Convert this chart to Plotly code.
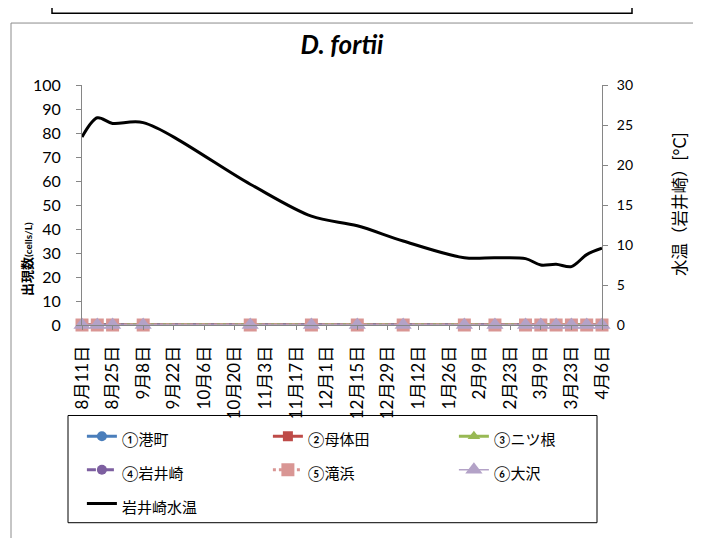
import plotly.graph_objects as go

# ---- data ----
dates = ["2013-08-11", "2013-08-18", "2013-08-25", "2013-09-08", "2013-10-27",
         "2013-11-24", "2013-12-15", "2014-01-05", "2014-02-02", "2014-02-16",
         "2014-03-02", "2014-03-09", "2014-03-16", "2014-03-23", "2014-03-30",
         "2014-04-06"]
water_temp = [23.5, 25.9, 25.2, 25.3, 17.6, 13.6, 12.4, 10.5, 8.4, 8.4,
              8.3, 7.5, 7.6, 7.3, 8.8, 9.6]
s1_minatomachi = [0, 0, 0, 0, 0, 0, 0, 0, 0, 0, 0, 0, 0, 0, 0, 0]
s2_motaida = [0, 0, 0, 0, 0, 0, 0, 0, 0, 0, 0, 0, 0, 0, 0, 0]
s3_futatsune = [0, 0, 0, 0, 0, 0, 0, 0, 0, 0, 0, 0, 0, 0, 0, 0]
s4_iwaisaki = [0, 0, 0, 0, 0, 0, 0, 0, 0, 0, 0, 0, 0, 0, 0, 0]
s5_takihama = [0, 0, 0, 0, 0, 0, 0, 0, 0, 0, 0, 0, 0, 0, 0, 0]
s6_osawa = [0, 0, 0, 0, 0, 0, 0, 0, 0, 0, 0, 0, 0, 0, 0, 0]

tick_dates = ["2013-08-11", "2013-08-25", "2013-09-08", "2013-09-22", "2013-10-06",
              "2013-10-20", "2013-11-03", "2013-11-17", "2013-12-01", "2013-12-15",
              "2013-12-29", "2014-01-12", "2014-01-26", "2014-02-09", "2014-02-23",
              "2014-03-09", "2014-03-23", "2014-04-06"]
tick_labels = ["8月11日", "8月25日", "9月8日", "9月22日", "10月6日", "10月20日",
               "11月3日", "11月17日", "12月1日", "12月15日", "12月29日", "1月12日",
               "1月26日", "2月9日", "2月23日", "3月9日", "3月23日", "4月6日"]

FONT = "Lato, 'Noto Sans CJK JP', sans-serif"

def lg(name):
    return '<span style="font-size:15px">' + name + '</span>'

series = [
    ("①港町", s1_minatomachi, "#4A7EBB", "solid", "circle", 10, 3),
    ("②母体田", s2_motaida, "#BE4B48", "solid", "square", 10, 3),
    ("③ニツ根", s3_futatsune, "#98B954", "solid", "triangle-up", 11, 3),
    ("④岩井崎", s4_iwaisaki, "#7D5FA0", "dash", "circle", 10, 3),
    ("⑤滝浜", s5_takihama, "#D99694", "dot", "square", 13, 3),
    ("⑥大沢", s6_osawa, "#B3A2C7", "solid", "triangle-up", 15, 1.5),
]

fig = go.Figure()
for name, vals, col, dash, sym, msize, lw in series:
    fig.add_trace(go.Scatter(
        x=dates, y=vals, name=lg(name), mode="lines+markers",
        line=dict(color=col, width=lw, dash=dash),
        marker=dict(symbol=sym, size=msize, color=col, line=dict(width=0)),
        cliponaxis=False, yaxis="y"))

fig.add_trace(go.Scatter(
    x=dates, y=water_temp, name=lg("岩井崎水温"), mode="lines",
    line=dict(color="black", width=3, shape="spline", smoothing=0.9),
    yaxis="y2"))

# page has an 8px body margin: reference pixel coords -> figure coords
OFF = 8
W, H = 701 - OFF, 538 - OFF
L, R, T, B = 82 - OFF, 602 - OFF, 85 - OFF, 329 - OFF
def px(x):
    return (x - OFF - L) / (R - L)
def py(y):
    return (B - (y - OFF)) / (B - T)

shapes = [
    dict(type="rect", xref="paper", yref="paper", x0=px(11), x1=px(697),
         y0=py(560), y1=py(22), line=dict(color="#8c8c8c", width=1)),
    dict(type="rect", xref="paper", yref="paper", x0=px(52), x1=px(632),
         y0=py(12), y1=py(-10), line=dict(color="black", width=1.5)),
    dict(type="rect", xref="paper", yref="paper", x0=px(68), x1=px(597),
         y0=py(530), y1=py(421), line=dict(color="black", width=1)),
]

annotations = [
    dict(text="<b>出現数<span style='font-size:10px'>(cells/L)</span></b>",
         xref="paper", yref="paper", x=px(27), y=py(262), textangle=-90,
         xanchor="center", yanchor="middle",
         showarrow=False, font=dict(family=FONT, size=13, color="black")),
    dict(text="水温（岩井崎）[°C]", xref="paper", yref="paper",
         x=px(680), y=py(207), textangle=-90, xanchor="center", yanchor="middle",
         showarrow=False, font=dict(family=FONT, size=16.5, color="black")),
]

fig.update_layout(
    width=W, height=H,
    margin=dict(l=L, r=W - R, t=T, b=H - B),
    paper_bgcolor="white", plot_bgcolor="white",
    font=dict(family=FONT, color="black"),
    title=dict(text="<b><i>D. fortii</i></b>", x=(342 - OFF) / W, xanchor="center",
               y=1 - (45 - OFF) / H, yanchor="middle",
               font=dict(family=FONT, size=26, color="black")),
    xaxis=dict(type="date", range=[dates[0], dates[-1]],
               tickvals=tick_dates, ticktext=tick_labels, tickangle=-90,
               ticks="outside", ticklen=4, tickcolor="#868686",
               ticklabelstandoff=9,
               showline=True, linecolor="#868686", showgrid=False, zeroline=False,
               tickfont=dict(family=FONT, size=17, color="black")),
    yaxis=dict(range=[0, 100], dtick=10, ticks="outside", ticklen=5,
               tickcolor="#868686", showline=True, linecolor="#868686",
               ticklabelstandoff=12,
               showgrid=False, zeroline=False,
               tickfont=dict(family=FONT, size=16, color="black")),
    yaxis2=dict(range=[0, 30], dtick=5, overlaying="y", side="right",
                ticks="outside", ticklen=5, tickcolor="#868686",
                ticklabelstandoff=6,
                showline=True, linecolor="#868686", showgrid=False, zeroline=False,
                tickfont=dict(family=FONT, size=14, color="black")),
    legend=dict(orientation="h", x=-0.0002, xanchor="left", y=py(420),
                yanchor="top", entrywidth=141, entrywidthmode="pixels",
                bgcolor="rgba(0,0,0,0)", borderwidth=0,
                font=dict(family=FONT, size=23.5, color="black")),
    shapes=shapes, annotations=annotations,
)

fig.write_html("out.html")
